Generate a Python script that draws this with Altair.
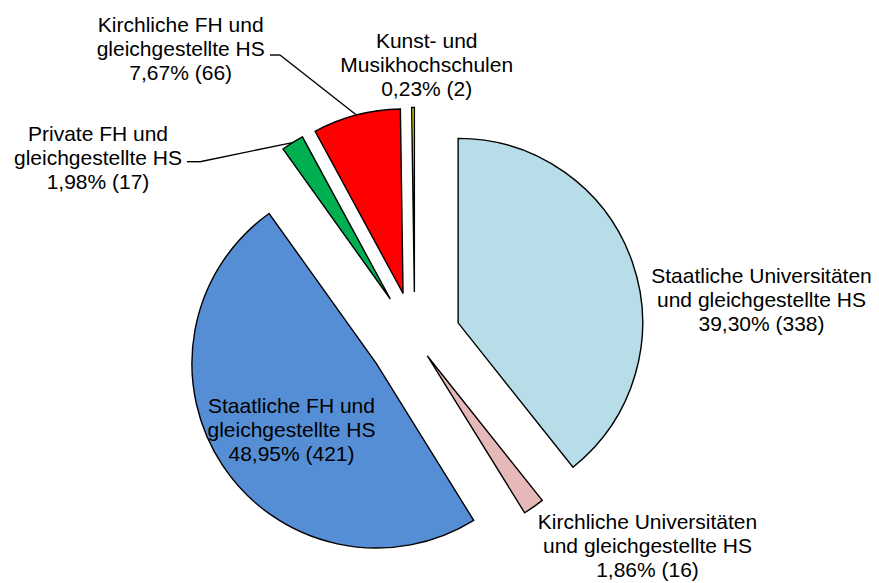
import math
import altair as alt
import pandas as pd

# ---- data ----
categories = [
    "Staatliche Universitäten\nund gleichgestellte HS",
    "Kirchliche Universitäten\nund gleichgestellte HS",
    "Staatliche FH und\ngleichgestellte HS",
    "Private FH und\ngleichgestellte HS",
    "Kirchliche FH und\ngleichgestellte HS",
    "Kunst- und\nMusikhochschulen",
]
counts = [338, 16, 421, 17, 66, 2]

# ---- styles / layout ----
colors = ["#B7DDE8", "#E6B9B8", "#558ED5", "#00B050", "#FF0000", "#FFFF00"]
explode = [46, 22, 46, 46, 46, 46]           # px slice explosion
label_x = [761.5, 647.5, 291.5, 98, 180.7, 426.7]   # centre of label block
label_y = [283.3, 528.5, 413.3, 141, 31.7, 48.3]   # first baseline
leader_sx = [None, None, None, 187, 270, None]
leader_bx = [None, None, None, 200, 280, None]
leader_by = [None, None, None, 161.7, 55, None]

CX, CY, R = 414.7, 338.0, 184.5
W, H = 863, 575
TOTAL = sum(counts)
FONT = "Liberation Sans"

df = pd.DataFrame({
    "idx": list(range(len(categories))),
    "name": categories,
    "count": counts,
    "explode": explode,
    "lx": label_x,
    "ly": label_y,
    "sx": leader_sx,
    "bx": leader_bx,
    "by": leader_by,
})

xs = alt.Scale(domain=[8, 8 + W], range=[0, W], nice=False, zero=False)
ys = alt.Scale(domain=[8, 8 + H], reverse=True, nice=False, zero=False)

base = alt.Chart()

arcs = base.mark_arc(radius=R, stroke="black", strokeWidth=1.4).encode(
    x=alt.X("pcx:Q", scale=xs, axis=None),
    y=alt.Y("pcy:Q", scale=ys, axis=None),
    theta=alt.Theta("start:Q", scale=alt.Scale(domain=[0, TOTAL], range=[0, 2 * math.pi])),
    theta2="cum:Q",
    color=alt.Color("name:N", scale=alt.Scale(domain=categories, range=colors), legend=None),
    order=alt.Order("idx:Q"),
)

lead_h = base.mark_rule(color="black", strokeWidth=1.4).encode(
    x=alt.X("sx:Q", scale=xs, axis=None),
    x2="bx:Q",
    y=alt.Y("by:Q", scale=ys, axis=None),
    y2="by:Q",
).transform_filter("isValid(datum.bx)")

lead_d = base.mark_rule(color="black", strokeWidth=1.4).encode(
    x=alt.X("bx:Q", scale=xs, axis=None),
    x2="ex:Q",
    y=alt.Y("by:Q", scale=ys, axis=None),
    y2="ey:Q",
).transform_filter("isValid(datum.bx)")

labels = base.mark_text(
    font=FONT, fontSize=21, align="center", baseline="alphabetic",
    lineBreak="\n", lineHeight=24, color="black",
).encode(
    x=alt.X("lx:Q", scale=xs, axis=None),
    y=alt.Y("ly:Q", scale=ys, axis=None),
    text="label:N",
)

chart = alt.layer(arcs, lead_h, lead_d, labels, data=df).transform_joinaggregate(
    total="sum(count)"
).transform_window(
    cum="sum(count)", sort=[alt.SortField("idx")]
).transform_calculate(
    start="datum.cum - datum.count",
    mid="(datum.cum - datum.count / 2) / datum.total * 2 * PI",
).transform_calculate(
    pcx=f"{CX} + datum.explode * sin(datum.mid)",
    pcy=f"{CY} - datum.explode * cos(datum.mid)",
).transform_calculate(
    ex=f"datum.pcx + {R} * sin(datum.mid)",
    ey=f"datum.pcy - {R} * cos(datum.mid)",
    label="datum.name + '\\n' + replace(format(datum.count / datum.total, '.2%'), '.', ',') + ' (' + datum.count + ')'",
).properties(
    width=W, height=H, padding=0, autosize="none", background="white"
).configure_view(stroke=None)

chart.save("out.html", embed_options={"renderer": "svg", "actions": False})
